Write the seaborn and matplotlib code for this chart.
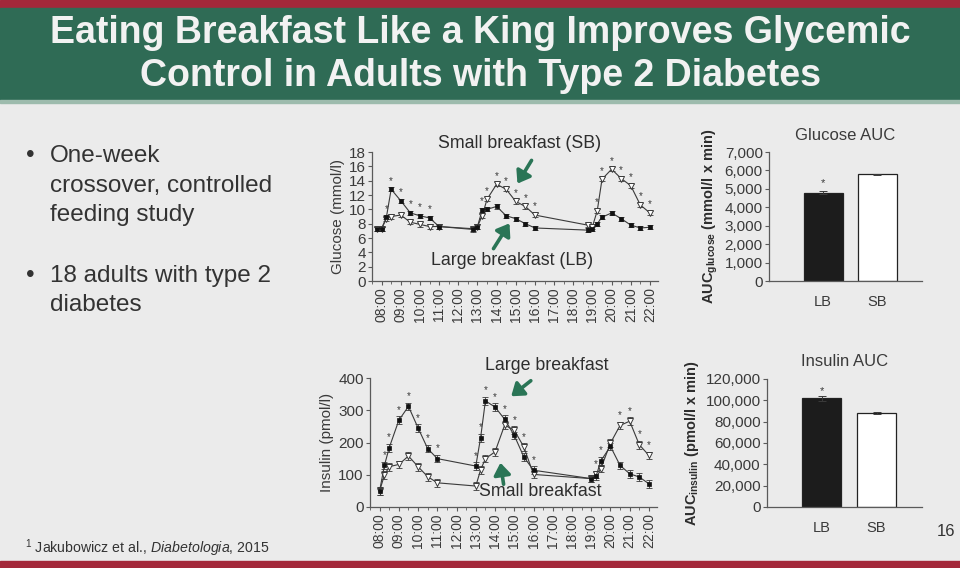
import numpy as np
import pandas as pd
import matplotlib
matplotlib.use("Agg")
import matplotlib.pyplot as plt
from matplotlib.patches import Rectangle, FancyArrowPatch
from matplotlib.ticker import FuncFormatter, MultipleLocator
import seaborn as sns

# ── DATA ─────────────────────────────────────────────────────
# glucose sampled at -15, 0, 15, 30, 60 ... 180 min around each meal
GLU_TIME = [7.75, 8.0, 8.25, 8.5, 9.0, 9.5, 10.0, 10.5, 11.0,
            12.75, 13.0, 13.25, 13.5, 14.0, 14.5, 15.0, 15.5, 16.0,
            18.75, 19.0, 19.25, 19.5, 20.0, 20.5, 21.0, 21.5, 22.0]
GLU_LB = [7.3, 7.3, 8.9, 12.8, 11.2, 9.5, 9.1, 8.8, 7.6,
          7.3, 7.6, 9.9, 10.0, 10.4, 9.1, 8.7, 8.0, 7.4,
          7.1, 7.3, 8.0, 8.9, 9.5, 8.7, 7.8, 7.4, 7.5]
GLU_SB = [7.3, 7.3, 8.7, 9.0, 9.2, 8.2, 7.9, 7.6, 7.6,
          7.2, 7.6, 9.1, 11.4, 13.5, 12.8, 11.1, 10.4, 9.2,
          7.8, 7.6, 9.8, 14.2, 15.6, 14.3, 13.3, 10.6, 9.5]
GLU_SEM = 0.3
GLU_STARS = [8.25, 8.5, 9.0, 9.5, 10.0, 10.5,
             13.25, 13.5, 14.0, 14.5, 15.0, 15.5, 16.0,
             19.25, 19.5, 20.0, 20.5, 21.0, 21.5, 22.0]

INS_TIME = [8.0, 8.25, 8.5, 9.0, 9.5, 10.0, 10.5, 11.0,
            13.0, 13.25, 13.5, 14.0, 14.5, 15.0, 15.5, 16.0,
            19.0, 19.25, 19.5, 20.0, 20.5, 21.0, 21.5, 22.0]
INS_LB = [50, 129, 184, 269, 312, 245, 181, 150,
          127, 215, 329, 310, 272, 222, 155, 114,
          88, 95, 143, 188, 129, 103, 93, 72]
INS_SB = [50, 99, 125, 132, 158, 125, 94, 75,
          65, 115, 150, 171, 254, 238, 186, 101,
          88, 101, 119, 198, 253, 266, 193, 160]
INS_SEM = 12
INS_STARS = [8.25, 8.5, 9.0, 9.5, 10.0, 10.5, 11.0,
             13.0, 13.25, 13.5, 14.0, 14.5, 15.0, 15.5, 16.0,
             19.25, 19.5, 20.5, 21.0, 21.5, 22.0]

HOUR_TICKS = list(range(8, 23))
HOUR_LABELS = [f"{h:02d}:00" for h in HOUR_TICKS]

GROUPS = ["LB", "SB"]
GLU_AUC = [4800, 5780]
GLU_AUC_SEM = [60, 40]
INS_AUC = [102000, 88000]
INS_AUC_SEM = [2500, 1200]

# ── STYLE ────────────────────────────────────────────────────
sns.set_theme(style="ticks")
plt.rcParams["font.family"] = ["Liberation Sans", "DejaVu Sans"]
plt.rcParams["mathtext.fontset"] = "custom"
plt.rcParams["mathtext.rm"] = "Liberation Sans"
plt.rcParams["mathtext.it"] = "Liberation Sans:italic"

BG = "#ebebeb"
GREEN = "#2f6b55"
RED = "#a3283a"
INK = "#3a3a3a"
AXC = "#5a5a5a"

W, H = 960, 568
fig = plt.figure(figsize=(W / 100, H / 100), dpi=100, facecolor=BG)


def fx(px):
    return px / W


def fy(py):
    return 1 - py / H


# slide banners
fig.add_artist(Rectangle((0, fy(8)), 1, 8 / H, transform=fig.transFigure, color=RED, zorder=0))
fig.add_artist(Rectangle((0, fy(100)), 1, 92 / H, transform=fig.transFigure, color=GREEN, zorder=0))
fig.add_artist(Rectangle((0, fy(103)), 1, 3 / H, transform=fig.transFigure, color="#9dbbad", zorder=0))
fig.add_artist(Rectangle((0, 0), 1, 7 / H, transform=fig.transFigure, color=RED, zorder=0))

title_kw = dict(ha="center", va="center", color="#f2f2f2", fontsize=27, fontweight="bold")
fig.text(0.5, fy(33), "Eating Breakfast Like a King Improves Glycemic", **title_kw)
fig.text(0.5, fy(76), "Control in Adults with Type 2 Diabetes", **title_kw)

# bullets
bul = dict(fontsize=17.5, color="#333333", va="center")
fig.text(fx(26), fy(156), "•", **bul)
fig.text(fx(50), fy(156), "One-week", **bul)
fig.text(fx(50), fy(186), "crossover, controlled", **bul)
fig.text(fx(50), fy(215), "feeding study", **bul)
fig.text(fx(26), fy(276), "•", **bul)
fig.text(fx(50), fy(276), "18 adults with type 2", **bul)
fig.text(fx(50), fy(305), "diabetes", **bul)

fig.text(fx(25), fy(548), r"$^1$ Jakubowicz et al., $\mathit{Diabetologia}$, 2015",
         fontsize=10.2, color="#333333", va="center")
fig.text(fx(937), fy(532), "16", fontsize=12, color="#333333", va="center")


def style_axes(ax):
    ax.set_facecolor(BG)
    sns.despine(ax=ax)
    for s in ["left", "bottom"]:
        ax.spines[s].set_color(AXC)
        ax.spines[s].set_linewidth(0.9)
    ax.tick_params(colors=AXC, labelcolor=INK, labelsize=11, length=3, width=0.8, pad=1.5)


def time_panel(ax, t, lb, sb, sem, stars, ylim, ystep, ylabel, star_off):
    style_axes(ax)
    ax.errorbar(t, sb, yerr=sem, fmt="none", ecolor=INK, elinewidth=0.6, capsize=2, capthick=0.6, zorder=2)
    ax.errorbar(t, lb, yerr=sem, fmt="none", ecolor=INK, elinewidth=0.6, capsize=2, capthick=0.6, zorder=2)
    sns.lineplot(x=t, y=sb, ax=ax, color=INK, linewidth=0.8, marker="v", markersize=4,
                 markerfacecolor="white", markeredgecolor=INK, markeredgewidth=0.7, zorder=3)
    sns.lineplot(x=t, y=lb, ax=ax, color=INK, linewidth=0.8, marker="s", markersize=3,
                 markerfacecolor="#111111", markeredgecolor="#111111", markeredgewidth=0.5, zorder=4)
    top = np.maximum(lb, sb)
    for st in stars:
        i = t.index(st)
        ax.text(st, top[i] + sem + star_off, "*", ha="center", va="center", fontsize=7, color=INK)
    ax.set_xlim(7.5, 22.42)
    ax.set_ylim(*ylim)
    ax.set_xticks(HOUR_TICKS)
    ax.set_xticklabels(HOUR_LABELS, rotation=90)
    ax.tick_params(axis="x", labelsize=10)
    ax.xaxis.set_minor_locator(MultipleLocator(0.5))
    ax.tick_params(axis="x", which="minor", length=2, width=0.6, colors=AXC)
    ax.yaxis.set_major_locator(MultipleLocator(ystep))
    ax.set_ylabel(ylabel, fontsize=11, color=INK, labelpad=3)
    ax.set_xlabel("")


ax_g = fig.add_axes([fx(372), fy(281), fx(286), 129 / H])
time_panel(ax_g, GLU_TIME, GLU_LB, GLU_SB, GLU_SEM, GLU_STARS, (0, 18), 2,
           "Glucose (mmol/l)", 0.9)

ax_i = fig.add_axes([fx(370), fy(507), fx(287), 129 / H])
time_panel(ax_i, INS_TIME, INS_LB, INS_SB, INS_SEM, INS_STARS, (0, 400), 100,
           "Insulin (pmol/l)", 20)

# annotations with green arrows
ann = dict(fontsize=12.8, color="#2d2d2d", ha="center", va="center")
fig.text(fx(520), fy(143), "Small breakfast (SB)", **ann)
fig.text(fx(512), fy(260), "Large breakfast (LB)", **ann)
fig.text(fx(547), fy(366), "Large breakfast", **ann)
fig.text(fx(540), fy(491), "Small breakfast", **ann)


def green_arrow(x0, y0, x1, y1):
    fig.add_artist(FancyArrowPatch((fx(x0), fy(y0)), (fx(x1), fy(y1)), transform=fig.transFigure,
                                   arrowstyle="-|>,head_length=7,head_width=5", color="#2a7556",
                                   linewidth=2.6, zorder=6))


green_arrow(533, 158, 516, 186)
green_arrow(492, 251, 511, 221)
green_arrow(533, 379, 509, 398)
green_arrow(504, 487, 500, 460)


def comma(v, _):
    return f"{int(v):,}"


def auc_panel(ax, vals, sems, ylim, ystep, title, ylabel, star_off):
    style_axes(ax)
    sns.barplot(x=GROUPS, y=vals, ax=ax, hue=GROUPS, palette=["#1c1c1c", "white"], legend=False,
                edgecolor="#222222", linewidth=0.9, width=0.72, saturation=1)
    ax.errorbar([0, 1], vals, yerr=sems, fmt="none", ecolor=INK, elinewidth=0.7, capsize=3, capthick=0.7)
    ax.text(0, vals[0] + sems[0] + star_off, "*", ha="center", va="center", fontsize=8, color=INK)
    ax.set_xlim(-1.0, 1.83)
    ax.set_ylim(*ylim)
    ax.yaxis.set_major_locator(MultipleLocator(ystep))
    ax.yaxis.set_major_formatter(FuncFormatter(comma))
    ax.tick_params(axis="x", length=0, pad=10, labelsize=10.5)
    ax.set_title(title, fontsize=12, color=INK, pad=9)
    ax.set_ylabel(ylabel, fontsize=10.5, color="#2d2d2d", fontweight="bold", labelpad=3)


ax_ga = fig.add_axes([fx(769), fy(281), fx(153), 129 / H])
auc_panel(ax_ga, GLU_AUC, GLU_AUC_SEM, (0, 7000), 1000, "Glucose AUC",
          r"AUC$_{\mathregular{glucose}}$ (mmol/l x min)", 450)

ax_ia = fig.add_axes([fx(767), fy(507), fx(155), 128 / H])
auc_panel(ax_ia, INS_AUC, INS_AUC_SEM, (0, 120000), 20000, "Insulin AUC",
          r"AUC$_{\mathregular{insulin}}$ (pmol/l x min)", 4000)

fig.savefig("out.png", dpi=100, facecolor=BG)
